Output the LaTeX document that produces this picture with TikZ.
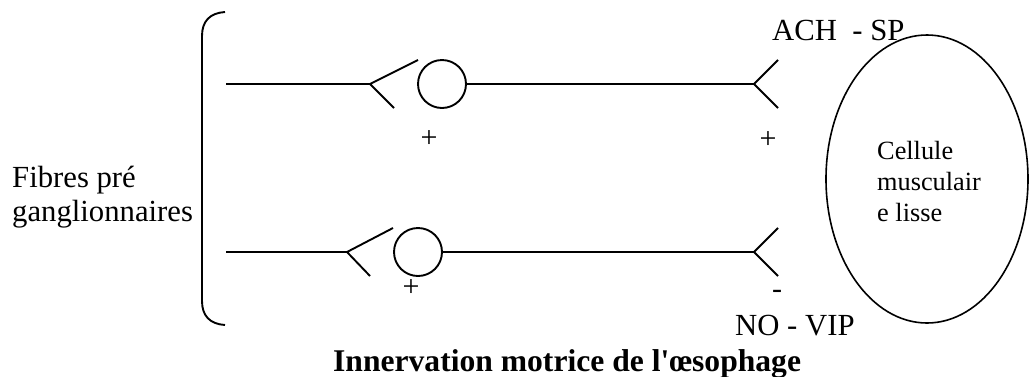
\documentclass[tikz,border=0pt]{standalone}
\usepackage{fontspec}
\setmainfont{Liberation Serif}[Ligatures=TeXOff]
\begin{document}
\begin{tikzpicture}[x=1pt,y=-1pt,
  wire/.style={line width=1.9pt, line cap=butt},
  soma/.style={circle, draw, line width=1.9pt, minimum size=48pt, inner sep=0pt},
  lbl/.style={inner sep=0pt, font=\fontsize{30.7}{34}\selectfont},
  small/.style={inner sep=0pt, font=\fontsize{26.3}{31}\selectfont},
  sign/.style={inner sep=0pt, anchor=base, font=\fontsize{30}{34}\selectfont}]
\useasboundingbox (0,0) rectangle (1031,376);

% brace gathering the two preganglionic fibres
\draw[wire] (225,12) .. controls (210,13) and (202,21) .. (202,36)
  -- (202,301) .. controls (202,316) and (210,324) .. (225,325);

% upper pathway
\coordinate (s1) at (226,84);
\coordinate (f1) at (370,84);
\coordinate (f1u) at (418,60);
\coordinate (f1d) at (394,108);
\node[soma] (c1) at (442,84) {};
\coordinate (r1) at (754,84);
\coordinate (r1u) at (778,60);
\coordinate (r1d) at (778,108);
\draw[wire] (s1) -- (f1);
\draw[wire] (f1u) -- (f1) -- (f1d);
\draw[wire] (c1) -- (r1);
\draw[wire] (r1u) -- (r1) -- (r1d);

% lower pathway
\coordinate (s2) at (226,252);
\coordinate (f2) at (347,252);
\coordinate (f2u) at (393,228);
\coordinate (f2d) at (370,276);
\node[soma] (c2) at (418,252) {};
\coordinate (r2) at (754,252);
\coordinate (r2u) at (778,228);
\coordinate (r2d) at (778,276);
\draw[wire] (s2) -- (f2);
\draw[wire] (f2u) -- (f2) -- (f2d);
\draw[wire] (c2) -- (r2);
\draw[wire] (r2u) -- (r2) -- (r2d);

% smooth muscle cell
\draw[line width=1.6pt] (927,179) ellipse [x radius=101, y radius=144];
\node[small, anchor=base west] (cel1) at (877,159) {Cellule};
\node[small, anchor=base west] (cel2) at (877,190) {musculair};
\node[small, anchor=base west] (cel3) at (877,221) {e lisse};

% signs
\node[sign] (p1) at (429,147) {+};
\node[sign] (p2) at (768,148) {+};
\node[sign] (p3) at (411,296) {+};
\node[sign] (m1) at (777,298) {-};

% labels
\node[lbl, anchor=base west] (ach) at (772,40) {ACH\ \ - SP};
\node[lbl, anchor=base west] (no) at (735,335) {NO - VIP};
\node[lbl, anchor=base west] (fib1) at (12,187) {Fibres pré};
\node[lbl, anchor=base west] (fib2) at (12,221) {ganglionnaires};
\node[lbl, anchor=base west, font=\fontsize{31.6}{34}\selectfont\bfseries] (title) at (333,371) {Innervation motrice de l'œsophage};
\end{tikzpicture}
\end{document}
